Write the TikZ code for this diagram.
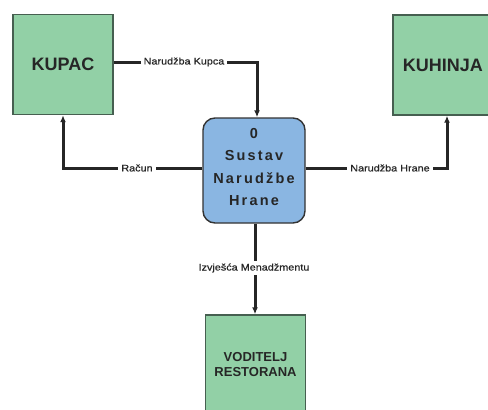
\documentclass[tikz,border=0pt]{standalone}
\usepackage{fontspec}
\setmainfont{Liberation Sans}
\newfontfamily\labelfont[FakeStretch=1.14,FakeBold=0.5]{Liberation Sans}
\newfontfamily\procfont[LetterSpace=15]{Liberation Sans}
\usetikzlibrary{arrows.meta}
\definecolor{boxgreen}{RGB}{146,208,166}
\definecolor{boxblue}{RGB}{138,182,226}
\definecolor{edgegreen}{RGB}{70,95,80}
\tikzset{
  entity/.style={draw=edgegreen, line width=1.4pt, fill=boxgreen, minimum width=100pt, minimum height=100pt, inner sep=0pt, font=\bfseries\fontsize{18}{20}\selectfont, align=center, text=black!85},
  process/.style={draw=black!80, line width=1.4pt, fill=boxblue, rounded corners=12pt, minimum width=102pt, minimum height=105pt, inner sep=0pt, font=\procfont\bfseries\fontsize{14.5}{22.5}\selectfont, align=center, text=black!85},
  flow/.style={line width=3pt, draw=black!85, -{Latex[length=7pt,width=6pt]}},
  flowlabel/.style={fill=white, font=\labelfont\fontsize{9.5}{11}\selectfont, inner sep=3pt, text=black!85}
}
\begin{document}
\begin{tikzpicture}[x=1pt,y=-1pt]
\useasboundingbox (0,0) rectangle (488,410);
\node[entity] (kupac) at (63,64.5) {KUPAC};
\node[entity] (kuhinja) at (443,65) {KUHINJA};
\node[process, text depth=0pt] (sustav) at (254,170.5) {};
\node[font=\procfont\bfseries\fontsize{14.5}{22.5}\selectfont, align=center, text=black!85, inner sep=0pt] (sustavtext) at (254,167) {0\\Sustav\\Narudžbe\\Hrane};
\node[entity, font=\bfseries\fontsize{13}{15}\selectfont] (voditelj) at (255.5,365) {VODITELJ\\RESTORANA};
\coordinate (c1) at (257,62);
\coordinate (c2) at (63,168);
\coordinate (c3) at (447,168);
\draw[flow] (kupac.east |- c1) -- (c1) -- (c1 |- sustav.north);
\draw[flow] (sustav.west |- c2) -- (c2) -- (c2 |- kupac.south);
\draw[flow] (sustav.east |- c3) -- (c3) -- (c3 |- kuhinja.south);
\draw[flow] (sustav.south -| 255,0) -- (voditelj.north -| 255,0);
\node[flowlabel] (l1) at (184,62) {Narudžba Kupca};
\node[flowlabel] (l2) at (137,168) {Račun};
\node[flowlabel] (l3) at (390,168) {Narudžba Hrane};
\node[flowlabel] (l4) at (254,268) {Izvješća Menadžmentu};
\end{tikzpicture}
\end{document}
